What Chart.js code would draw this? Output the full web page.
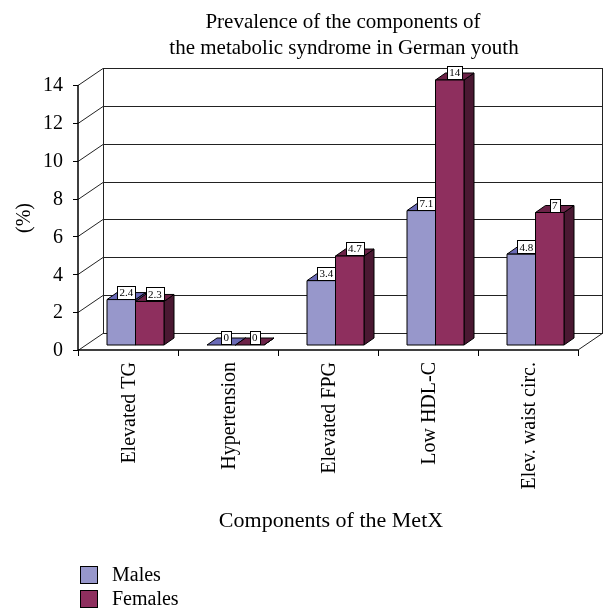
<!DOCTYPE html>
<html>
<head>
<meta charset="utf-8">
<script src="https://cdn.jsdelivr.net/npm/chart.js@4/dist/chart.umd.min.js"></script>
<style>
  html, body { margin: 0; padding: 0; background: #fff; }
  #wrap { width: 604px; height: 610px; }
</style>
</head>
<body>
<div id="wrap"><canvas id="c" width="604" height="610"></canvas></div>
<script>
// Prevalence (%) of MetS components by sex
const categories = ['Elevated TG', 'Hypertension', 'Elevated FPG', 'Low HDL-C', 'Elev. waist circ.'];
const males = [2.4, 0, 3.4, 7.1, 4.8];
const females = [2.3, 0, 4.7, 14, 7];
const yTicks = [0, 2, 4, 6, 8, 10, 12, 14];
const seriesNames = ['Males', 'Females'];
const titleLines = ['Prevalence of the components of', 'the metabolic syndrome in German youth'];
const xTitle = 'Components of the MetX';
const yTitle = '(%)';

const FONT = '"Liberation Serif", "Times New Roman", serif';
const WALL = { dx: 25, dy: -17 };   // offset of the back wall from the front plane
const PLANE = { dx: 7.5, dy: -5 };  // offset of the column row from the front plane
const DEPTH = { dx: 10, dy: -7 };   // depth of each column
const faces = [
  { front: '#9797CB', top: '#6A6AB6', side: '#4C4C8C' },
  { front: '#8E2F5E', top: '#6C2348', side: '#4A1832' }
];

function poly(ctx, pts, fill) {
  ctx.beginPath();
  ctx.moveTo(pts[0][0], pts[0][1]);
  for (let k = 1; k < pts.length; k++) ctx.lineTo(pts[k][0], pts[k][1]);
  ctx.closePath();
  ctx.fillStyle = fill;
  ctx.fill();
  ctx.stroke();
}

const frame3d = {
  id: 'frame3d',
  beforeDraw(chart) {
    const ctx = chart.ctx;
    const ys = chart.scales.y, xs = chart.scales.x;
    const L = chart.chartArea.left, R = chart.chartArea.right;
    const y0 = ys.getPixelForValue(0);
    const yTop = ys.getPixelForValue(yTicks[yTicks.length - 1]);
    ctx.save();
    ctx.fillStyle = '#fff';
    ctx.fillRect(0, 0, chart.width, chart.height);

    // back wall and side wall grid
    ctx.strokeStyle = '#222';
    ctx.lineWidth = 1;
    yTicks.forEach(v => {
      const y = Math.round(ys.getPixelForValue(v)) + 0.5;
      ctx.beginPath();
      ctx.moveTo(L + WALL.dx, y + WALL.dy);
      ctx.lineTo(R + WALL.dx, y + WALL.dy);
      ctx.moveTo(L, y);
      ctx.lineTo(L + WALL.dx, y + WALL.dy);
      ctx.stroke();
    });
    ctx.beginPath();
    ctx.moveTo(L + WALL.dx + 0.5, yTop + WALL.dy);
    ctx.lineTo(L + WALL.dx + 0.5, y0 + WALL.dy);
    ctx.moveTo(R + WALL.dx - 0.5, yTop + WALL.dy);
    ctx.lineTo(R + WALL.dx - 0.5, y0 + WALL.dy);
    // floor right edge
    ctx.moveTo(R, y0);
    ctx.lineTo(R + WALL.dx, y0 + WALL.dy);
    ctx.stroke();

    // front axes
    ctx.strokeStyle = '#000';
    ctx.lineWidth = 1.5;
    ctx.beginPath();
    ctx.moveTo(L, yTop);
    ctx.lineTo(L, y0);
    ctx.lineTo(R, y0);
    ctx.stroke();
    ctx.lineWidth = 1;
    ctx.beginPath();
    yTicks.forEach(v => {
      const y = Math.round(ys.getPixelForValue(v)) + 0.5;
      ctx.moveTo(L - 5, y);
      ctx.lineTo(L, y);
    });
    for (let i = 0; i <= categories.length; i++) {
      const x = Math.round(L + (R - L) * i / categories.length) + 0.5;
      ctx.moveTo(x, y0);
      ctx.lineTo(x, y0 + 6);
    }
    ctx.stroke();

    // tick labels
    ctx.fillStyle = '#000';
    ctx.font = '20px ' + FONT;
    ctx.textAlign = 'right';
    ctx.textBaseline = 'middle';
    yTicks.forEach(v => ctx.fillText(String(v), L - 15, ys.getPixelForValue(v) + 1));

    categories.forEach((c, i) => {
      ctx.save();
      ctx.translate(xs.getPixelForValue(i) + 2, y0 + 12);
      ctx.rotate(-Math.PI / 2);
      ctx.textAlign = 'right';
      ctx.fillText(c, 0, 0);
      ctx.restore();
    });

    // titles
    ctx.textAlign = 'center';
    ctx.font = '21px ' + FONT;
    ctx.fillText(titleLines[0], 343, 22);
    ctx.fillText(titleLines[1], 344, 48);
    ctx.font = '22px ' + FONT;
    ctx.fillText(xTitle, 331, 521);
    ctx.font = '20px ' + FONT;
    ctx.save();
    ctx.translate(25, 218);
    ctx.rotate(-Math.PI / 2);
    ctx.fillText(yTitle, 0, 0);
    ctx.restore();

    // legend
    ctx.textAlign = 'left';
    ctx.lineWidth = 1;
    ctx.strokeStyle = '#000';
    seriesNames.forEach((n, k) => {
      const y = 566 + k * 24;
      ctx.fillStyle = faces[k].front;
      ctx.fillRect(80.5, y + 0.5, 17, 17);
      ctx.strokeRect(80.5, y + 0.5, 17, 17);
      ctx.fillStyle = '#000';
      ctx.fillText(n, 112, y + 10);
    });
    ctx.restore();
  },
  beforeDatasetsDraw() {
    return false;
  },
  afterDraw(chart) {
    const ctx = chart.ctx;
    ctx.save();
    ctx.strokeStyle = '#000';
    ctx.lineWidth = 1;
    ctx.lineJoin = 'miter';
    const labels = [];
    categories.forEach((c, i) => {
      chart.data.datasets.forEach((ds, d) => {
        const el = chart.getDatasetMeta(d).data[i];
        const x0 = el.x - el.width / 2 + PLANE.dx;
        const x1 = x0 + el.width;
        const yt = el.y + PLANE.dy;
        const yb = el.base + PLANE.dy;
        const f = faces[d];
        poly(ctx, [[x1, yt], [x1 + DEPTH.dx, yt + DEPTH.dy], [x1 + DEPTH.dx, yb + DEPTH.dy], [x1, yb]], f.side);
        poly(ctx, [[x0, yt], [x1, yt], [x1 + DEPTH.dx, yt + DEPTH.dy], [x0 + DEPTH.dx, yt + DEPTH.dy]], f.top);
        if (yb - yt > 0.5) poly(ctx, [[x0, yt], [x1, yt], [x1, yb], [x0, yb]], f.front);
        labels.push({ v: ds.data[i], x: (x0 + x1) / 2 + DEPTH.dx / 2, y: yt + DEPTH.dy / 2 - 4 });
      });
    });
    // value boxes
    ctx.font = '11px ' + FONT;
    ctx.textAlign = 'center';
    ctx.textBaseline = 'middle';
    labels.forEach(l => {
      const t = String(l.v);
      const w = Math.ceil(ctx.measureText(t).width) + 4;
      const h = 13;
      const bx = Math.round(l.x - w / 2) + 0.5, by = Math.round(l.y - h / 2) + 0.5;
      ctx.fillStyle = '#fff';
      ctx.fillRect(bx, by, w, h);
      ctx.strokeRect(bx, by, w, h);
      ctx.fillStyle = '#000';
      ctx.fillText(t, l.x, l.y + 1);
    });
    ctx.restore();
  }
};

new Chart(document.getElementById('c'), {
  type: 'bar',
  data: {
    labels: categories,
    datasets: [
      { label: seriesNames[0], data: males, backgroundColor: faces[0].front },
      { label: seriesNames[1], data: females, backgroundColor: faces[1].front }
    ]
  },
  options: {
    responsive: false,
    animation: false,
    devicePixelRatio: 1,
    layout: { padding: { left: 78, right: 26, top: 85, bottom: 260 } },
    categoryPercentage: 0.57,
    barPercentage: 1,
    plugins: { legend: { display: false }, title: { display: false }, tooltip: { enabled: false } },
    scales: {
      x: { display: false, offset: true },
      y: { display: false, min: 0, max: 14 }
    }
  },
  plugins: [frame3d]
});
</script>
</body>
</html>
